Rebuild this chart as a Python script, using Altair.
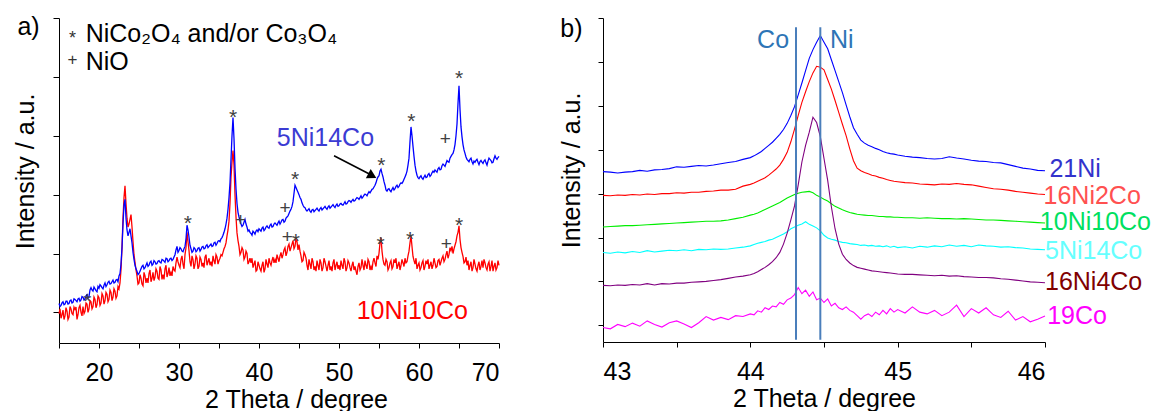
import altair as alt
import pandas as pd

FONT = "Liberation Sans"

# ---------------- Panel a: wide-angle XRD (2theta 15..70) ----------------
# readings on the 0.25-degree grid (15.00, 15.25, ...)
a_5Ni14Co = [
    0.15, 0.12, 0.18, 0.14,  0.19, 0.15, 0.21, 0.17,  0.22, 0.18, 0.24, 0.21,
    0.26, 0.23, 0.30, 0.27,  0.42, 0.36, 0.40, 0.35,  0.41, 0.45, 0.40, 0.50,
    0.47, 0.53, 0.49, 0.55,  0.51, 0.56, 0.62, 0.82,  1.50, 1.92, 1.40, 1.36,
    1.30, 1.02, 0.80, 0.70,  0.66, 0.74, 0.80, 0.76,  0.84, 0.80, 0.87, 0.82,
    0.86, 0.83, 0.88, 0.84,  0.89, 0.85, 0.91, 0.88,  0.92, 0.90, 0.98, 1.12,
    1.05, 1.08, 1.03, 1.12,  1.48, 1.28, 1.08, 1.04,  1.08, 1.05, 1.10, 1.07,
    1.12, 1.09, 1.15, 1.12,  1.16, 1.13, 1.19, 1.17,  1.22, 1.25, 1.31, 1.42,
    1.60, 1.95, 2.60, 3.31,  2.45, 1.85, 1.62, 1.50,  1.48, 1.58, 1.45, 1.40,
    1.34, 1.38, 1.33, 1.40,  1.42, 1.38, 1.45, 1.41,  1.47, 1.43, 1.50, 1.46,
    1.52, 1.48, 1.55, 1.53,  1.58, 1.55, 1.62, 1.68,  1.75, 1.88, 2.16, 2.08,
    2.00, 1.92, 1.82, 1.78,  1.72, 1.76, 1.70, 1.75,  1.73, 1.77, 1.72, 1.78,
    1.76, 1.80, 1.75, 1.81,  1.79, 1.83, 1.78, 1.84,  1.81, 1.85, 1.82, 1.88,
    1.85, 1.90, 1.87, 1.92,  1.90, 1.95, 1.92, 1.98,  1.96, 2.01, 1.98, 2.05,
    2.06, 2.10, 2.16, 2.26,  2.32, 2.43, 2.30, 2.16,  2.06, 2.10, 2.05, 2.12,
    2.10, 2.16, 2.14, 2.20,  2.22, 2.30, 2.40, 2.62,  3.15, 2.82, 2.50, 2.33,
    2.27, 2.32, 2.26, 2.33,  2.30, 2.36, 2.33, 2.40,  2.42, 2.38, 2.46, 2.43,
    2.52, 2.48, 2.58, 2.55,  2.65, 2.70, 2.85, 3.20,  3.85, 3.15, 2.85, 2.70,
    2.60, 2.56, 2.62, 2.52,  2.55, 2.60, 2.51, 2.58,  2.53, 2.59, 2.50, 2.62,
    2.58, 2.55, 2.66, 2.60,  2.65,
]
# readings between them (15.125, 15.375, ...)
a_5Ni14Co_mid = [
    0.10, 0.16, 0.13, 0.19,  0.14, 0.20, 0.16, 0.23,  0.20, 0.23, 0.19, 0.27,
    0.21, 0.28, 0.24, 0.38,  0.38, 0.43, 0.37, 0.44,  0.47, 0.42, 0.46, 0.44,
    0.51, 0.48, 0.52, 0.50,  0.55, 0.52, 0.66, 1.10,  1.82, 1.60, 1.30, 1.42,
    1.18, 0.90, 0.74, 0.64,  0.70, 0.78, 0.74, 0.80,  0.78, 0.85, 0.80, 0.88,
    0.82, 0.87, 0.85, 0.90,  0.87, 0.92, 0.86, 0.91,  0.88, 0.94, 1.06, 1.02,
    1.10, 1.04, 1.08, 1.25,  1.40, 1.14, 1.02, 1.10,  1.03, 1.09, 1.04, 1.11,
    1.08, 1.13, 1.10, 1.14,  1.12, 1.18, 1.14, 1.21,  1.20, 1.27, 1.36, 1.50,
    1.75, 2.20, 3.00, 2.95,  2.10, 1.70, 1.55, 1.46,  1.53, 1.50, 1.38, 1.36,
    1.31, 1.36, 1.38, 1.37,  1.40, 1.43, 1.39, 1.45,  1.44, 1.48, 1.45, 1.50,
    1.50, 1.52, 1.50, 1.57,  1.53, 1.60, 1.64, 1.72,  1.80, 2.02, 2.12, 2.04,
    1.95, 1.86, 1.79, 1.74,  1.74, 1.72, 1.74, 1.71,  1.75, 1.74, 1.76, 1.74,
    1.78, 1.77, 1.79, 1.77,  1.81, 1.80, 1.82, 1.80,  1.84, 1.83, 1.85, 1.84,
    1.88, 1.89, 1.90, 1.89,  1.93, 1.94, 1.95, 1.94,  1.99, 2.00, 2.02, 2.03,
    2.09, 2.13, 2.20, 2.30,  2.40, 2.36, 2.22, 2.08,  2.09, 2.07, 2.09, 2.08,
    2.14, 2.12, 2.18, 2.19,  2.26, 2.34, 2.50, 2.90,  3.00, 2.65, 2.40, 2.29,
    2.30, 2.28, 2.30, 2.29,  2.34, 2.31, 2.37, 2.38,  2.40, 2.44, 2.42, 2.49,
    2.50, 2.53, 2.56, 2.62,  2.68, 2.76, 3.00, 3.55,  3.45, 2.98, 2.76, 2.64,
    2.58, 2.60, 2.56, 2.57,  2.58, 2.55, 2.56, 2.55,  2.57, 2.54, 2.57, 2.60,
    2.54, 2.61, 2.62, 2.63,
]
a_10Ni10Co = [
    -0.02, -0.10, 0.04, -0.06,  0.02, -0.08, 0.06, -0.04,  0.05, -0.12, 0.08, 0.00,
    0.10, 0.02, 0.14, 0.06,  0.18, 0.10, 0.22, 0.13,  0.25, 0.16, 0.28, 0.20,
    0.31, 0.22, 0.34, 0.26,  0.36, 0.28, 0.40, 0.72,  1.60, 2.15, 1.60, 1.50,
    1.66, 1.20, 0.85, 0.62,  0.50, 0.58, 0.45, 0.62,  0.58, 0.66, 0.52, 0.68,
    0.60, 0.70, 0.56, 0.72,  0.64, 0.74, 0.60, 0.76,  0.68, 0.78, 0.70, 0.94,
    0.80, 0.90, 0.82, 0.98,  1.36, 1.05, 0.78, 0.90,  0.82, 0.92, 0.78, 0.90,
    0.84, 0.94, 0.80, 0.92,  0.86, 0.96, 0.82, 0.94,  0.88, 0.98, 1.02, 1.12,
    1.30, 1.55, 2.30, 2.75,  2.00, 1.35, 1.12, 1.02,  1.06, 0.94, 1.00, 0.86,
    0.84, 0.76, 0.88, 0.72,  0.80, 0.70, 0.86, 0.74,  0.82, 0.92, 0.80, 0.94,
    0.90, 0.98, 0.86, 1.02,  0.98, 1.10, 1.02, 1.16,  1.10, 1.22, 1.12, 1.20,
    1.15, 0.96, 0.88, 0.98,  0.80, 0.90, 0.74, 0.86,  0.78, 0.88, 0.72, 0.84,
    0.76, 0.86, 0.70, 0.88,  0.78, 0.84, 0.72, 0.86,  0.80, 0.88, 0.74, 0.86,
    0.76, 0.84, 0.70, 0.86,  0.78, 0.64, 0.84, 0.76,  0.80, 0.88, 0.74, 0.86,
    0.78, 0.86, 0.84, 0.96,  1.00, 1.27, 0.90, 0.80,  0.86, 0.76, 0.88, 0.78,
    0.84, 0.74, 0.86, 0.80,  0.84, 0.92, 0.86, 1.04,  1.30, 0.95, 0.82, 0.74,
    0.84, 0.76, 0.88, 0.78,  0.82, 0.74, 0.86, 0.80,  0.84, 0.78, 0.90, 0.86,
    0.96, 0.90, 1.04, 0.98,  1.05, 1.00, 1.14, 1.30,  1.47, 1.10, 0.95, 0.86,
    0.80, 0.72, 0.86, 0.76,  0.82, 0.70, 0.86, 0.78,  0.76, 0.84, 0.72, 0.86,
    0.78, 0.70, 0.84, 0.76,  0.80,
]
a_10Ni10Co_mid = [
    0.06, -0.04, -0.12, 0.08,  -0.12, 0.10, -0.02, 0.09,  0.09, -0.04, 0.12, -0.06,
    -0.02, 0.16, 0.00, 0.20,  0.06, 0.26, 0.08, 0.28,  0.12, 0.32, 0.14, 0.34,
    0.18, 0.38, 0.20, 0.40,  0.24, 0.44, 0.50, 1.10,  1.95, 1.85, 1.45, 1.58,
    1.45, 0.98, 0.72, 0.48,  0.64, 0.48, 0.68, 0.50,  0.50, 0.72, 0.58, 0.54,
    0.74, 0.58, 0.78, 0.56,  0.56, 0.80, 0.66, 0.62,  0.62, 0.72, 0.84, 0.86,
    0.76, 0.96, 0.74, 1.10,  1.20, 0.86, 0.96, 0.74,  0.96, 0.74, 0.94, 0.78,
    0.76, 0.98, 0.86, 0.80,  0.78, 0.88, 0.98, 0.82,  0.92, 0.96, 1.08, 1.18,
    1.40, 1.85, 2.55, 2.50,  1.62, 1.22, 0.98, 1.10,  0.90, 1.04, 0.82, 0.92,
    0.92, 0.82, 0.70, 0.86,  0.74, 0.80, 0.68, 0.90,  0.76, 0.84, 0.88, 0.84,
    0.84, 0.92, 0.96, 0.92,  1.06, 0.96, 1.12, 1.04,  1.16, 1.08, 1.26, 1.06,
    1.04, 0.86, 1.02, 0.92,  0.72, 0.82, 0.92, 0.72,  0.70, 0.80, 0.90, 0.70,
    0.92, 0.78, 0.80, 0.72,  0.70, 0.90, 0.80, 0.74,  0.72, 0.80, 0.92, 0.70,
    0.88, 0.76, 0.80, 0.72,  0.70, 0.78, 0.72, 0.90,  0.72, 0.80, 0.90, 0.72,
    0.72, 0.92, 0.78, 0.90,  1.18, 1.04, 0.82, 0.90,  0.72, 0.84, 0.74, 0.90,
    0.92, 0.80, 0.72, 0.90,  0.78, 0.84, 0.96, 1.18,  1.12, 0.88, 0.92, 0.80,
    0.72, 0.84, 0.72, 0.88,  0.90, 0.80, 0.74, 0.92,  0.76, 0.88, 0.80, 0.92,
    0.86, 0.98, 0.92, 1.10,  1.12, 1.08, 1.20, 1.36,  1.24, 1.02, 0.84, 0.94,
    0.88, 0.80, 0.70, 0.90,  0.74, 0.80, 0.72, 0.88,  0.90, 0.76, 0.82, 0.70,
    0.88, 0.78, 0.72, 0.88,
]
a_x = [round(15 + 0.25 * i, 3) for i in range(len(a_5Ni14Co))]
a_x_mid = [round(15.125 + 0.25 * i, 3) for i in range(len(a_5Ni14Co_mid))]

# reflection markers (panel a)
star_x = [18.55, 31.1, 36.75, 44.5, 55.3, 59.05, 65.0, 44.6, 55.2, 58.9, 65.0]
star_y = [0.28, 1.61, 3.40, 2.35, 2.58, 3.34, 4.06, 1.29, 1.25, 1.33, 1.57]
plus_x = [37.7, 43.25, 63.3, 43.55, 63.4]
plus_y = [1.58, 1.79, 2.97, 1.30, 1.17]

# ---------------- Panel b: (111) metal reflection, 43..46 ----------------
b_x = ([round(43 + 0.05 * i, 3) for i in range(20)]
       + [round(44 + 0.025 * i, 3) for i in range(40)]
       + [round(45 + 0.05 * i, 3) for i in range(21)])

b_21Ni = [
    3.50, 3.49, 3.47, 3.49, 3.50, 3.53, 3.51, 3.54, 3.55, 3.57,
    3.61, 3.60, 3.62, 3.64, 3.63, 3.65, 3.68, 3.71, 3.73, 3.78,
    3.82, 3.86, 3.91, 3.96, 4.03, 4.10, 4.17, 4.26, 4.35, 4.46,
    4.60, 4.78, 4.98, 5.25, 5.52, 5.80, 6.08, 6.28, 6.45, 6.60,
    6.45, 6.30, 6.05, 5.80, 5.55, 5.30, 5.02, 4.75, 4.50, 4.35,
    4.22, 4.15, 4.10, 4.07, 4.03, 4.00, 3.96, 3.93, 3.91, 3.90,
    3.88, 3.85, 3.83, 3.82, 3.80, 3.79, 3.80, 3.84, 3.81, 3.79,
    3.76, 3.74, 3.73, 3.71, 3.70, 3.66, 3.62, 3.58, 3.56, 3.53, 3.52,
]
b_16Ni2Co = [
    2.96, 2.95, 2.97, 2.96, 2.98, 2.97, 2.99, 2.98, 3.00, 3.00,
    3.02, 3.01, 3.03, 3.03, 3.05, 3.06, 3.08, 3.08, 3.10, 3.17,
    3.21, 3.24, 3.28, 3.32, 3.36, 3.42, 3.49, 3.56, 3.65, 3.78,
    3.94, 4.18, 4.47, 4.78, 5.08, 5.32, 5.55, 5.75, 5.90, 5.88,
    5.82, 5.60, 5.38, 5.12, 4.85, 4.58, 4.32, 4.02, 3.75, 3.58,
    3.52, 3.48, 3.45, 3.42, 3.40, 3.37, 3.35, 3.32, 3.30, 3.28,
    3.27, 3.25, 3.24, 3.22, 3.21, 3.20, 3.22, 3.21, 3.23, 3.21,
    3.20, 3.17, 3.14, 3.11, 3.10, 3.08, 3.05, 3.03, 3.01, 2.99, 2.98,
]
b_10Ni10Co = [
    2.24, 2.25, 2.26, 2.27, 2.27, 2.28, 2.29, 2.30, 2.31, 2.32,
    2.33, 2.34, 2.35, 2.36, 2.37, 2.37, 2.38, 2.40, 2.43, 2.46,
    2.51, 2.53, 2.56, 2.60, 2.64, 2.68, 2.72, 2.76, 2.80, 2.85,
    2.90, 2.94, 2.98, 3.01, 3.03, 3.04, 3.05, 3.02, 2.96, 2.92,
    2.87, 2.83, 2.77, 2.71, 2.67, 2.63, 2.60, 2.57, 2.55, 2.53,
    2.52, 2.51, 2.50, 2.50, 2.49, 2.48, 2.48, 2.47, 2.47, 2.46,
    2.46, 2.45, 2.45, 2.44, 2.45, 2.44, 2.43, 2.43, 2.42, 2.43,
    2.42, 2.41, 2.40, 2.40, 2.39, 2.38, 2.37, 2.36, 2.35, 2.34, 2.33,
]
b_5Ni14Co = [
    1.66, 1.64, 1.67, 1.65, 1.68, 1.66, 1.70, 1.67, 1.69, 1.71,
    1.70, 1.72, 1.70, 1.73, 1.72, 1.74, 1.73, 1.74, 1.76, 1.78,
    1.81, 1.84, 1.87, 1.89, 1.91, 1.94, 1.96, 2.00, 2.04, 2.08,
    2.13, 2.20, 2.24, 2.28, 2.31, 2.36, 2.30, 2.26, 2.22, 2.15,
    2.05, 1.99, 1.96, 1.94, 1.91, 1.89, 1.88, 1.86, 1.85, 1.84,
    1.82, 1.83, 1.81, 1.82, 1.80, 1.81, 1.79, 1.81, 1.78, 1.80,
    1.77, 1.79, 1.76, 1.80, 1.78, 1.81, 1.79, 1.83, 1.80, 1.82,
    1.79, 1.83, 1.81, 1.80, 1.78, 1.79, 1.77, 1.76, 1.74, 1.73, 1.72,
]
b_16Ni4Co = [
    0.91, 0.90, 0.92, 0.91, 0.93, 0.92, 0.95, 0.92, 0.95, 0.94,
    0.96, 0.96, 0.98, 0.99, 1.00, 1.02, 1.04, 1.07, 1.10, 1.12,
    1.15, 1.18, 1.22, 1.27, 1.32, 1.38, 1.45, 1.54, 1.66, 1.85,
    2.10, 2.40, 2.72, 3.20, 3.72, 4.10, 4.40, 4.74, 4.62, 4.30,
    3.80, 3.30, 2.70, 2.20, 1.85, 1.62, 1.50, 1.42, 1.36, 1.32,
    1.30, 1.28, 1.26, 1.24, 1.23, 1.22, 1.21, 1.20, 1.19, 1.18,
    1.17, 1.16, 1.16, 1.15, 1.14, 1.13, 1.14, 1.12, 1.13, 1.11,
    1.10, 1.09, 1.09, 1.08, 1.06, 1.05, 1.03, 1.01, 0.99, 0.98, 0.97,
]
b_19Co = [
    -0.05, -0.08, 0.02, -0.03, 0.05, -0.02, 0.10, 0.02, -0.04, 0.06,
    0.10, 0.03, -0.05, 0.06, 0.20, 0.12, 0.18, 0.13, 0.22, 0.20,
    0.26, 0.24, 0.33, 0.30, 0.40, 0.36, 0.44, 0.42, 0.52, 0.48,
    0.58, 0.62, 0.70, 0.86, 0.72, 0.80, 0.66, 0.76, 0.58, 0.62,
    0.52, 0.60, 0.44, 0.50, 0.40, 0.36, 0.42, 0.34, 0.30, 0.22,
    0.14, 0.22, 0.26, 0.20, 0.30, 0.24, 0.34, 0.26, 0.38, 0.30,
    0.36, 0.28, 0.42, 0.30, 0.26, 0.34, 0.22, 0.30, 0.46, 0.20,
    0.38, 0.28, 0.40, 0.24, 0.18, 0.32, 0.12, 0.20, 0.08, 0.14, 0.21,
]

b_series = ["21Ni", "16Ni2Co", "10Ni10Co", "5Ni14Co", "16Ni4Co", "19Co"]
b_values = [b_21Ni, b_16Ni2Co, b_10Ni10Co, b_5Ni14Co, b_16Ni4Co, b_19Co]
b_line_colors = ["#0000ff", "#ff0000", "#00ee00", "#00ffff", "#800080", "#ff00ff"]
b_label_colors = ["#3333cc", "#ff5050", "#00e060", "#66ffff", "#800000", "#ff00ff"]
b_label_x = [46.03, 45.99, 45.965, 46.0, 46.0, 46.015]
b_label_y = [3.37, 2.76, 2.16, 1.52, 0.81, 0.02]

ref_x = [44.31, 44.475]
ref_lo, ref_hi = -0.33, 6.79

# ---------------- styles ----------------
AX = dict(domainColor="black", tickColor="black", domainWidth=1, tickWidth=1,
          labelColor="black", titleColor="black", grid=False)

xa = alt.X("x:Q", scale=alt.Scale(domain=[15, 70], nice=False, zero=False),
           axis=alt.Axis(values=list(range(15, 71, 5)),
                         labelExpr="datum.value % 10 == 0 ? format(datum.value, 'd') : ''",
                         title="2 Theta / degree", tickSize=5, labelPadding=12,
                         titlePadding=2, titleX=237, **AX))
ya = alt.Y("y:Q", scale=alt.Scale(domain=[-0.52, 5], nice=False, zero=False),
           axis=alt.Axis(values=[0, 1, 2, 3, 4, 5], labels=False, tickSize=6,
                         title="Intensity / a.u.", titlePadding=14, titleY=153, **AX))

dfa_red = pd.DataFrame({"x": a_x + a_x_mid, "y": a_10Ni10Co + a_10Ni10Co_mid}).sort_values("x")
dfa_blue = pd.DataFrame({"x": a_x + a_x_mid, "y": a_5Ni14Co + a_5Ni14Co_mid}).sort_values("x")

red_line = alt.Chart(dfa_red).mark_line(color="#ff0000", strokeWidth=1.3).encode(x=xa, y=ya)
blue_line = alt.Chart(dfa_blue).mark_line(color="#0000ff", strokeWidth=1.3).encode(x=xa, y=ya)

stars = alt.Chart(pd.DataFrame({"x": star_x, "y": star_y, "t": ["*"] * len(star_x)})).mark_text(
    font=FONT, fontSize=21, color="#404040", baseline="alphabetic", dy=12).encode(x=xa, y=ya, text="t:N")
pluses = alt.Chart(pd.DataFrame({"x": plus_x, "y": plus_y, "t": ["+"] * len(plus_x)})).mark_text(
    font=FONT, fontSize=19, color="#404040", baseline="alphabetic", dy=7).encode(x=xa, y=ya, text="t:N")

ann_blue = alt.Chart(pd.DataFrame({"x": [42.22], "y": [2.82], "t": ["5Ni14Co"]})).mark_text(
    font=FONT, fontSize=25, color="#3b3bd3", align="left", baseline="alphabetic").encode(x=xa, y=ya, text="t:N")
ann_red = alt.Chart(pd.DataFrame({"x": [52.21], "y": [-0.11], "t": ["10Ni10Co"]})).mark_text(
    font=FONT, fontSize=25, color="#ff0000", align="left", baseline="alphabetic").encode(x=xa, y=ya, text="t:N")

arrow_shaft = alt.Chart(pd.DataFrame({"x": [49.38], "y": [2.66], "x2": [54.1], "y2": [2.33]})).mark_rule(
    color="black", strokeWidth=1.6).encode(x=xa, y=ya, x2="x2:Q", y2="y2:Q")
arrow_head = alt.Chart(pd.DataFrame({"x": [54.16], "y": [2.32]})).mark_point(
    shape="triangle-right", size=110, filled=True, color="black", opacity=1, angle=27.6).encode(x=xa, y=ya)

lab_a = alt.Chart(pd.DataFrame({"t": ["a)"]})).mark_text(
    font=FONT, fontSize=25, align="left", baseline="alphabetic", color="black").encode(
    x=alt.value(-41.6), y=alt.value(16.7), text="t:N")
leg_star = alt.Chart(pd.DataFrame({"t": ["*"]})).mark_text(
    font=FONT, fontSize=18, align="center", baseline="alphabetic", dy=10, color="#333333").encode(
    x=alt.value(13.4), y=alt.value(16), text="t:N")
leg_plus = alt.Chart(pd.DataFrame({"t": ["+"]})).mark_text(
    font=FONT, fontSize=17, align="center", baseline="alphabetic", dy=6, color="#333333").encode(
    x=alt.value(13.4), y=alt.value(41), text="t:N")
leg_t1 = alt.Chart(pd.DataFrame({"t": ["NiCo\u2082O\u2084 and/or Co\u2083O\u2084"]})).mark_text(
    font=FONT, fontSize=25, align="left", baseline="alphabetic", color="black").encode(
    x=alt.value(26.7), y=alt.value(23.7), text="t:N")
leg_t2 = alt.Chart(pd.DataFrame({"t": ["NiO"]})).mark_text(
    font=FONT, fontSize=25, align="left", baseline="alphabetic", color="black").encode(
    x=alt.value(26.7), y=alt.value(52), text="t:N")

panel_a = alt.layer(red_line, blue_line, stars, pluses, arrow_shaft, arrow_head,
                    ann_blue, ann_red, lab_a, leg_star, leg_plus, leg_t1, leg_t2).properties(
    width=440, height=325)

# ---------------- panel b ----------------
xb = alt.X("x:Q", scale=alt.Scale(domain=[43, 46], nice=False, zero=False),
           axis=alt.Axis(values=[43, 43.5, 44, 44.5, 45, 45.5, 46],
                         labelExpr="datum.value % 1 == 0 ? format(datum.value, 'd') : ''",
                         title="2 Theta / degree", tickSize=5, labelPadding=12,
                         titlePadding=2, **AX))
yb = alt.Y("y:Q", scale=alt.Scale(domain=[-0.38, 7], nice=False, zero=False),
           axis=alt.Axis(values=list(range(0, 8)), labels=False, tickSize=5,
                         title="Intensity / a.u.", titlePadding=13, titleY=152, **AX))

b_layers = []
for name, vals, col in zip(b_series, b_values, b_line_colors):
    df = pd.DataFrame({"x": b_x, "y": vals})
    b_layers.append(alt.Chart(df).mark_line(color=col, strokeWidth=1.1).encode(x=xb, y=yb))

refs = alt.Chart(pd.DataFrame({"x": ref_x, "y": [ref_lo] * 2, "y2": [ref_hi] * 2})).mark_rule(
    color="#4a7ebb", strokeWidth=2).encode(x=xb, y=yb, y2="y2:Q")
co_lab = alt.Chart(pd.DataFrame({"x": [44.263], "y": [6.31], "t": ["Co"]})).mark_text(
    font=FONT, fontSize=25, color="#2e75b6", align="right", baseline="alphabetic").encode(x=xb, y=yb, text="t:N")
ni_lab = alt.Chart(pd.DataFrame({"x": [44.54], "y": [6.31], "t": ["Ni"]})).mark_text(
    font=FONT, fontSize=25, color="#2e75b6", align="left", baseline="alphabetic").encode(x=xb, y=yb, text="t:N")
series_labels = alt.Chart(pd.DataFrame({"x": b_label_x, "y": b_label_y, "t": b_series,
                                        "c": b_label_colors})).mark_text(
    font=FONT, fontSize=25, align="left", baseline="alphabetic").encode(
    x=xb, y=yb, text="t:N", color=alt.Color("c:N", scale=None))
lab_b = alt.Chart(pd.DataFrame({"t": ["b)"]})).mark_text(
    font=FONT, fontSize=25, align="left", baseline="alphabetic", color="black").encode(
    x=alt.value(-42.7), y=alt.value(19.3), text="t:N")

panel_b = alt.layer(*b_layers, refs, co_lab, ni_lab, series_labels, lab_b).properties(
    width=442, height=324)

chart = alt.hconcat(panel_a, panel_b, spacing=104, bounds="flush").properties(
    padding={"left": 13, "top": 14, "right": 0, "bottom": 0}
).configure(font=FONT).configure_axis(
    labelFont=FONT, titleFont=FONT, labelFontSize=25, titleFontSize=25,
    titleFontWeight="normal"
).configure_view(stroke=None)

chart.save("out.html", embed_options={"renderer": "svg", "actions": False})
